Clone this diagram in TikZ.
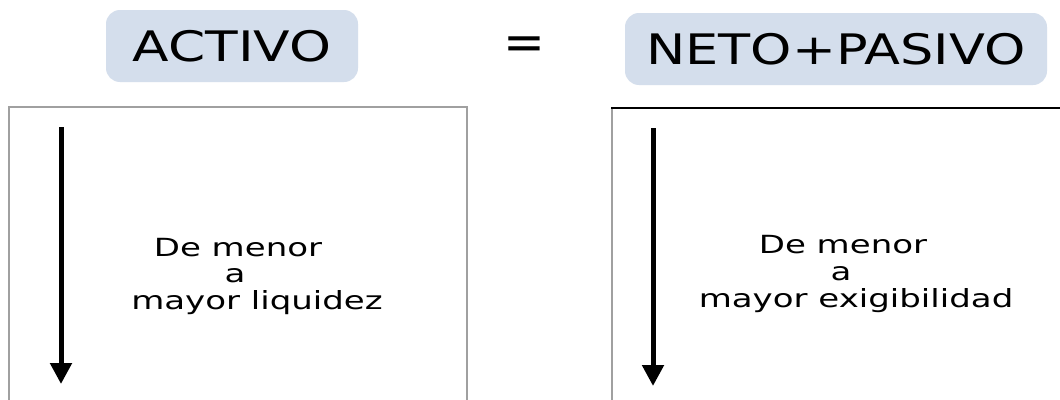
\documentclass[tikz,border=0pt]{standalone}
\usepackage{fontspec}
\setmainfont{DejaVu Sans}
\usetikzlibrary{arrows.meta}
\definecolor{titlefill}{HTML}{D4DEEC}
\definecolor{framegray}{HTML}{A0A0A0}
\tikzset{
  titlebox/.style={fill=titlefill, rounded corners=14pt, inner sep=0pt,
    font=\fontsize{42}{42}\selectfont},
  bodytext/.style={anchor=base, inner sep=0pt, font=\fontsize{25}{26}\selectfont},
  frame/.style={draw=framegray, line width=2pt},
  downarrow/.style={line width=5pt, -{Triangle[width=21pt,length=21pt]}}
}
\begin{document}
\begin{tikzpicture}[x=1pt,y=-1pt]
\useasboundingbox (0,0) rectangle (1060,399);
\clip (0,0) rectangle (1060,399);
\fill[white] (0,0) rectangle (1060,399);
% titles
\node[titlebox, minimum width=252pt, minimum height=72pt] (activo) at (232,46)
  {\scalebox{1.27}[1]{ACTIVO}};
\node[titlebox, minimum width=422pt, minimum height=72pt] (neto) at (836,49)
  {\scalebox{1.25}[1]{NETO+PASIVO}};
\node[anchor=base, inner sep=0pt, font=\fontsize{50}{50}\selectfont] (eq) at (524,59) {=};
% frames
\draw[frame] (9,107) rectangle (467,420);
\draw[framegray, line width=2pt] (612,420) -- (612,108);
\draw[black, line width=2pt] (611,108) -- (1080,108);
% arrows
\coordinate (a1s) at (61,127);
\coordinate (a1e) at (61,384);
\coordinate (a2s) at (653,128);
\coordinate (a2e) at (653,386);
\draw[downarrow] (a1s) -- (a1e);
\draw[downarrow] (a2s) -- (a2e);
% left text
\node[bodytext] (l1) at (238,256) {\scalebox{1.36}[1]{De menor}};
\node[bodytext] (l2) at (235,282) {\scalebox{1.36}[1]{a}};
\node[bodytext] (l3) at (257,309) {\scalebox{1.36}[1]{mayor liquidez}};
% right text
\node[bodytext] (r1) at (843,253) {\scalebox{1.36}[1]{De menor}};
\node[bodytext] (r2) at (841,280) {\scalebox{1.36}[1]{a}};
\node[bodytext] (r3) at (856,307) {\scalebox{1.36}[1]{mayor exigibilidad}};
\end{tikzpicture}
\end{document}
